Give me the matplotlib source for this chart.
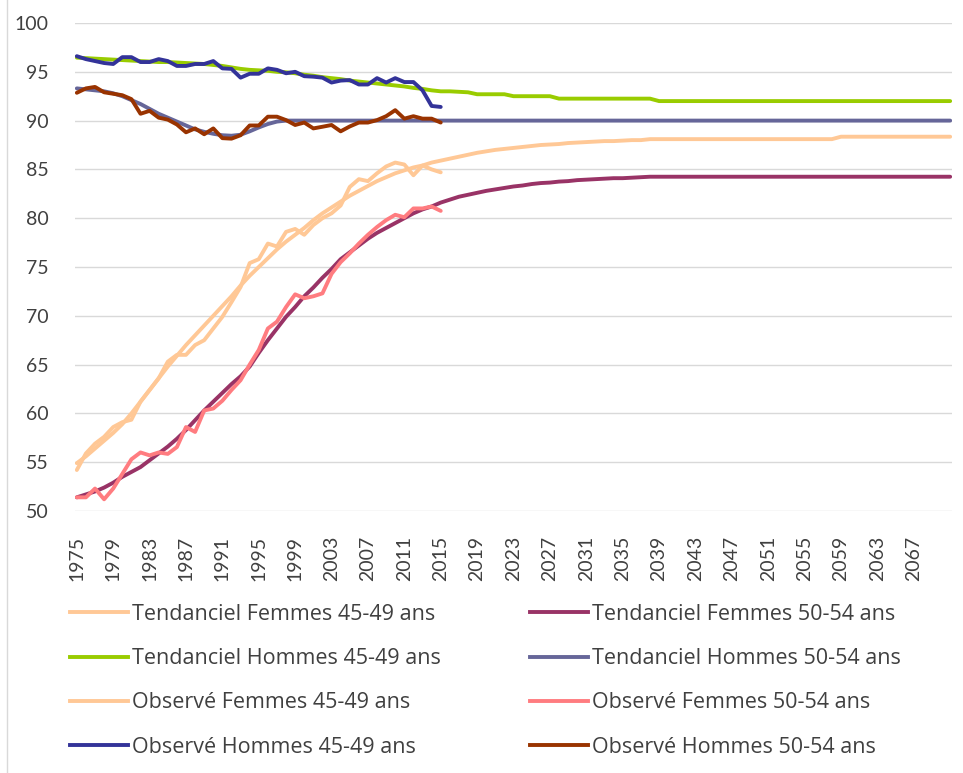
import matplotlib
matplotlib.use("Agg")
import matplotlib.pyplot as plt
from matplotlib.lines import Line2D
import numpy as np

plt.rcParams['font.family'] = ['Lato', 'DejaVu Sans']

years_obs = list(range(1975, 2016))
years_all = list(range(1975, 2072))

# Observed series 1975-2015
obs_hommes_45 = [96.6, 96.3, 96.1, 95.9, 95.8, 96.5, 96.5, 96.0, 96.0, 96.3,
                 96.1, 95.6, 95.6, 95.8, 95.8, 96.1, 95.35, 95.3, 94.4, 94.8,
                 94.8, 95.35, 95.2, 94.85, 95.0, 94.55, 94.5, 94.4, 93.9, 94.1,
                 94.15, 93.7, 93.7, 94.35, 93.9, 94.35, 93.95, 93.95, 93.1, 91.5,
                 91.4]
obs_hommes_50 = [92.85, 93.3, 93.45, 92.9, 92.75, 92.6, 92.2, 90.7, 91.0, 90.3,
                 90.1, 89.6, 88.8, 89.2, 88.6, 89.2, 88.2, 88.15, 88.5, 89.5,
                 89.5, 90.4, 90.4, 90.05, 89.55, 89.8, 89.2, 89.37, 89.55, 88.9,
                 89.4, 89.8, 89.8, 90.05, 90.45, 91.07, 90.2, 90.45, 90.2, 90.2,
                 89.8]
obs_femmes_45 = [54.2, 55.9, 56.9, 57.6, 58.6, 59.1, 59.35, 61.2, 62.4, 63.6,
                 65.3, 66.0, 66.0, 67.0, 67.5, 68.7, 69.9, 71.4, 72.95, 75.4,
                 75.8, 77.4, 77.1, 78.6, 78.9, 78.3, 79.3, 80.0, 80.5, 81.3,
                 83.2, 84.0, 83.8, 84.6, 85.3, 85.7, 85.5, 84.4, 85.4, 85.0,
                 84.7]
obs_femmes_50 = [51.4, 51.4, 52.3, 51.2, 52.3, 53.8, 55.3, 56.0, 55.7, 56.0,
                 55.85, 56.55, 58.6, 58.1, 60.3, 60.5, 61.3, 62.4, 63.4, 65.0,
                 66.5, 68.7, 69.4, 70.9, 72.2, 71.8, 72.0, 72.3, 74.3, 75.5,
                 76.4, 77.4, 78.3, 79.1, 79.8, 80.35, 80.1, 81.0, 81.0, 81.2,
                 80.75]

# Trend series 1975-2071
tend_femmes_45 = ([54.9, 55.6, 56.4, 57.2, 58.0, 58.9, 60.0, 61.2, 62.4, 63.6,
                   64.8, 65.9, 67.0, 68.0, 69.0, 70.0, 71.0, 72.0, 73.1, 74.1,
                   75.0, 75.9, 76.8, 77.6, 78.3, 79.0, 79.8, 80.5, 81.1, 81.7,
                   82.3, 82.8, 83.3, 83.8, 84.2, 84.6, 84.9, 85.2, 85.4, 85.7,
                   85.9, 86.1, 86.3, 86.5, 86.7, 86.85, 87.0, 87.1, 87.2, 87.3,
                   87.4, 87.5, 87.55, 87.6, 87.7, 87.75, 87.8, 87.85, 87.9, 87.9,
                   87.95, 88.0, 88.0] + [88.1] * 21 + [88.35] * 13)
tend_femmes_50 = ([51.4, 51.7, 52.0, 52.4, 52.9, 53.5, 54.0, 54.5, 55.2, 55.9,
                   56.6, 57.4, 58.3, 59.3, 60.3, 61.2, 62.1, 63.0, 63.8, 64.8,
                   66.2, 67.5, 68.7, 69.9, 70.9, 72.0, 72.9, 73.9, 74.8, 75.8,
                   76.5, 77.2, 77.9, 78.5, 79.0, 79.5, 80.0, 80.5, 80.9, 81.2,
                   81.6, 81.9, 82.2, 82.4, 82.6, 82.8, 82.95, 83.1, 83.25, 83.35,
                   83.5, 83.6, 83.65, 83.75, 83.8, 83.9, 83.95, 84.0, 84.05, 84.1,
                   84.1, 84.15, 84.2] + [84.25] * 34)
tend_hommes_45 = ([96.45, 96.4, 96.35, 96.3, 96.25, 96.2, 96.15, 96.1, 96.05, 96.0,
                   96.0, 95.95, 95.9, 95.85, 95.8, 95.7, 95.6, 95.45, 95.3, 95.2,
                   95.15, 95.1, 95.0, 94.95, 94.85, 94.7, 94.6, 94.45, 94.35, 94.25,
                   94.1, 94.0, 93.9, 93.8, 93.7, 93.6, 93.5, 93.35, 93.25, 93.1,
                   93.0, 93.0, 92.95, 92.9] + [92.7] * 4 + [92.5] * 5 + [92.25] * 11
                  + [92.0] * 33)
tend_hommes_50 = ([93.3, 93.2, 93.1, 93.0, 92.8, 92.5, 92.1, 91.7, 91.2, 90.7,
                   90.3, 89.9, 89.5, 89.1, 88.85, 88.65, 88.5, 88.45, 88.55, 88.9,
                   89.3, 89.65, 89.9] + [90.0] * 74)

series = [
    ("Tendanciel Femmes 45-49 ans", years_all, tend_femmes_45, "#FFC896"),
    ("Tendanciel Femmes 50-54 ans", years_all, tend_femmes_50, "#993366"),
    ("Tendanciel Hommes 45-49 ans", years_all, tend_hommes_45, "#99CC00"),
    ("Tendanciel Hommes 50-54 ans", years_all, tend_hommes_50, "#666699"),
    ("Observé Femmes 45-49 ans", years_obs, obs_femmes_45, "#FFC896"),
    ("Observé Femmes 50-54 ans", years_obs, obs_femmes_50, "#FF7C80"),
    ("Observé Hommes 45-49 ans", years_obs, obs_hommes_45, "#333399"),
    ("Observé Hommes 50-54 ans", years_obs, obs_hommes_50, "#993300"),
]

W, H = 963, 773
fig = plt.figure(figsize=(W / 100, H / 100), dpi=100)
ax = fig.add_axes([75 / W, 1 - 511 / H, (952 - 75) / W, (511 - 23) / H])

lw = 2.8
for label, xs, ys, col in series:
    ax.plot(xs, ys, color=col, lw=lw, solid_joinstyle='round', solid_capstyle='round')

ax.set_ylim(50, 100)
ax.set_xlim(1974.8, 2071.2)
ax.set_yticks(range(50, 101, 5))
ax.set_xticks(range(1975, 2068, 4))
ax.set_xticklabels([str(y) for y in range(1975, 2068, 4)], rotation=90)
ax.tick_params(axis='both', length=0, labelsize=14, colors='#404040')
ax.tick_params(axis='y', pad=19)
ax.tick_params(axis='x', pad=18)
ax.grid(axis='y', color='#D9D9D9', lw=1.0)
ax.set_axisbelow(True)
for s in ax.spines.values():
    s.set_visible(False)

# legends: two columns
def make_handles(items):
    return [Line2D([0], [0], color=c, lw=lw) for _, _, _, c in items]

col1 = [series[0], series[2], series[4], series[6]]
col2 = [series[1], series[3], series[5], series[7]]
common = dict(frameon=False, handlelength=2.7, handletextpad=0.2,
              labelspacing=1.08, borderaxespad=0, borderpad=0, labelcolor='#404040',
              prop={'family': ['Open Sans', 'DejaVu Sans'], 'size': 15.5})
leg1 = fig.legend(make_handles(col1), [s[0] for s in col1], loc='upper left',
                  bbox_to_anchor=(70 / W, 1 - 604 / H), **common)
leg2 = fig.legend(make_handles(col2), [s[0] for s in col2], loc='upper left',
                  bbox_to_anchor=(530 / W, 1 - 604 / H), **common)

# chart border line at the left
fig.add_artist(Line2D([7 / W, 7 / W], [0, 1], color='#D9D9D9', lw=1.0,
                      transform=fig.transFigure))

fig.savefig("out.png", dpi=100)
